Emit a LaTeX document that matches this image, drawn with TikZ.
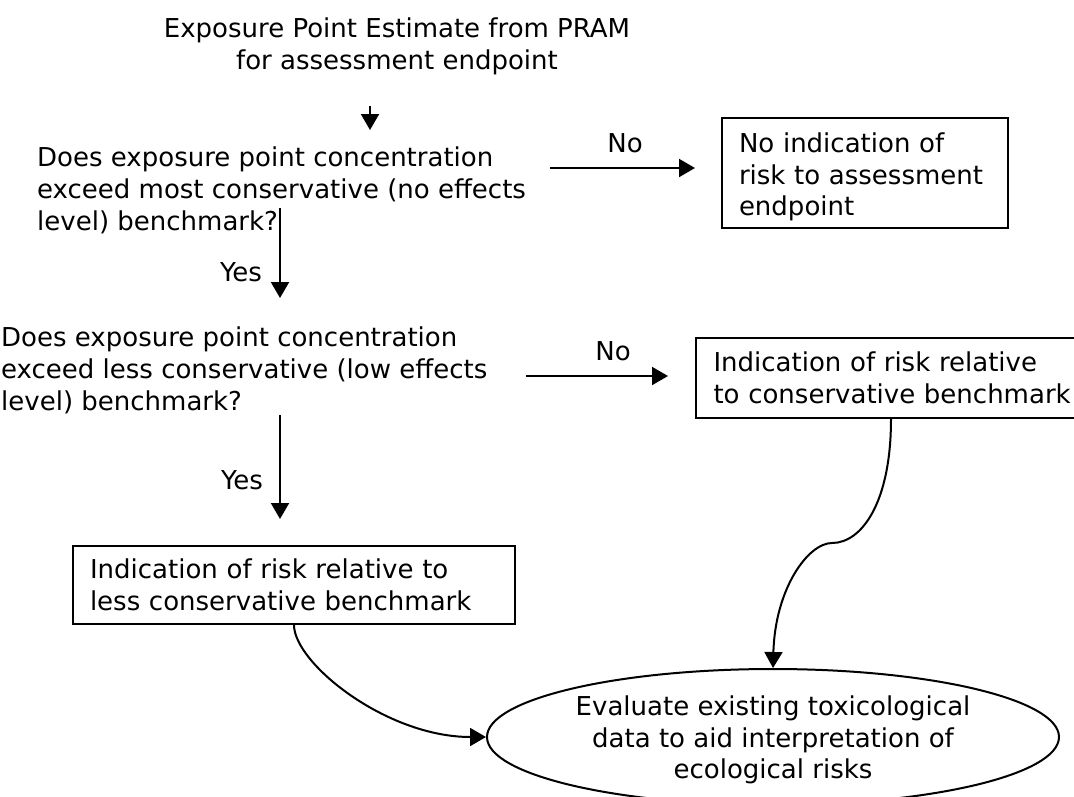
\documentclass[tikz,border=0pt]{standalone}
\usepackage{fontspec}
\setmainfont{DejaVu Sans}
\usetikzlibrary{arrows.meta,shapes.geometric}
\tikzset{
  lw/.style={line width=2pt},
  arr/.style={lw,-{Triangle[length=16pt,width=18pt]}},
  txt/.style={inner sep=0pt,font=\fontsize{26}{31.6}\selectfont},
  boxnode/.style={txt,draw,lw,anchor=north west,align=left,inner xsep=17pt,inner ysep=0pt},
  lbl/.style={txt,anchor=center}
}
\begin{document}
\begin{tikzpicture}[x=1pt,y=-1pt]
\useasboundingbox (0,0) rectangle (1074,796);
% texts (base anchor = baseline of last line)
\node[txt,anchor=base,align=center] (top) at (397,69) {Exposure Point Estimate from PRAM\\for assessment endpoint};
\node[txt,anchor=base west,align=left] (q1) at (37,230) {Does exposure point concentration\\exceed most conservative (no effects\\level) benchmark?};
\node[txt,anchor=base west,align=left] (q2) at (1,410) {Does exposure point concentration\\exceed less conservative (low effects\\level) benchmark?};
% boxes
\node[boxnode,text width=252pt,minimum width=286pt,minimum height=110pt] (box1) at (721,117) {\rule{0pt}{28pt}No indication of\\risk to assessment\\endpoint};
\node[boxnode,text width=355pt,minimum width=390pt,minimum height=80pt] (box2) at (695,337) {\mbox{Indication of risk relative}\\\mbox{to conservative benchmark}};
\node[boxnode,text width=408pt,minimum width=442pt,minimum height=78pt] (box3) at (72,545) {Indication of risk relative to\\less conservative benchmark};
% ellipse
\node[draw,lw,ellipse,minimum width=572pt,minimum height=136pt,inner sep=0pt] (eval) at (773,737) {};
\node[txt,align=center] (evaltext) at (773,740) {Evaluate existing toxicological\\data to aid interpretation of\\ecological risks};
% connector end points
\coordinate (a1s) at (370,106);
\coordinate (a1e) at (370,130);
\coordinate (n1s) at (550,168);
\coordinate (n1e) at (695,168);
\coordinate (y1s) at (280,208);
\coordinate (y1e) at (280,298);
\coordinate (n2s) at (526,376);
\coordinate (n2e) at (668,376);
\coordinate (y2s) at (280,415);
\coordinate (y2e) at (280,519);
\coordinate (kink) at (832,543);
% connectors
\draw[arr] (a1s) -- (a1e);
\draw[arr] (n1s) -- (n1e);
\draw[arr] (y1s) -- (y1e);
\draw[arr] (n2s) -- (n2e);
\draw[arr] (y2s) -- (y2e);
\draw[arr] (box2.south) .. controls +(0,83) and +(30,0) .. (kink) .. controls +(-24,0) and +(2,-79) .. (eval.north);
\draw[arr] (box3.south) .. controls +(0,38) and +(-100,0) .. (eval.west);
% labels
\node[lbl] (no1) at (625,143) {No};
\node[lbl] (yes1) at (241,272) {Yes};
\node[lbl] (no2) at (613,351) {No};
\node[lbl] (yes2) at (242,480) {Yes};
\end{tikzpicture}
\end{document}
